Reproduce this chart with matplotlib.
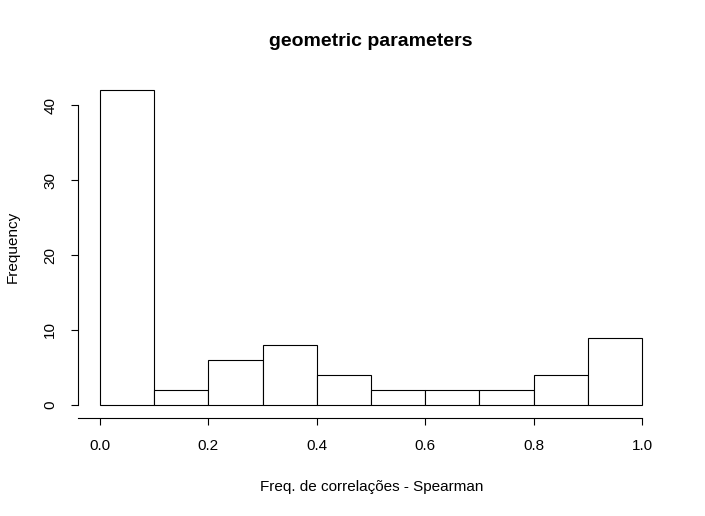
import matplotlib
matplotlib.use("Agg")
import matplotlib.pyplot as plt

# histogram bins and counts
bin_edges = [0.0, 0.1, 0.2, 0.3, 0.4, 0.5, 0.6, 0.7, 0.8, 0.9, 1.0]
counts = [42, 2, 6, 8, 4, 2, 2, 2, 4, 9]
xticks = [0.0, 0.2, 0.4, 0.6, 0.8, 1.0]
xtick_labels = ["0.0", "0.2", "0.4", "0.6", "0.8", "1.0"]
yticks = [0, 10, 20, 30, 40]

plt.rcParams['font.family'] = ['Liberation Sans', 'DejaVu Sans']

W, H = 705, 516
fig = plt.figure(figsize=(W / 100, H / 100), dpi=100)
ax = fig.add_axes([78.3 / W, 1 - 417.6 / H, 585.4 / W, 340.2 / H])

lefts = bin_edges[:-1]
widths = [b - a for a, b in zip(bin_edges[:-1], bin_edges[1:])]
ax.bar(lefts, counts, width=widths, align='edge', color='white',
       edgecolor='black', linewidth=0.8)

ax.set_xlim(-0.04, 1.04)
ax.set_ylim(-1.68, 43.68)

for s in ['top', 'right']:
    ax.spines[s].set_visible(False)
ax.spines['left'].set_bounds(0, 40)
ax.spines['bottom'].set_bounds(-0.04, 1.0)
ax.spines['left'].set_linewidth(0.8)
ax.spines['bottom'].set_linewidth(0.8)

ax.set_xticks(xticks)
ax.set_xticklabels(xtick_labels)
ax.set_yticks(yticks)
ax.set_yticklabels([str(v) for v in yticks], rotation=90, va='center')
ax.tick_params(axis='both', direction='out', length=5.2, width=0.8,
               labelsize=11)
ax.tick_params(axis='x', pad=10.5)
ax.tick_params(axis='y', pad=10)

fig.text(371 / W, 1 - 41 / H, "geometric parameters", ha='center',
         va='center', fontsize=14, fontweight='bold')
fig.text(372 / W, 1 - 487 / H, "Freq. de correlações - Spearman",
         ha='center', va='center', fontsize=11)
fig.text(13 / W, 1 - 247 / H, "Frequency", ha='center', va='center',
         rotation=90, fontsize=11)

fig.savefig("out.png", dpi=100)
